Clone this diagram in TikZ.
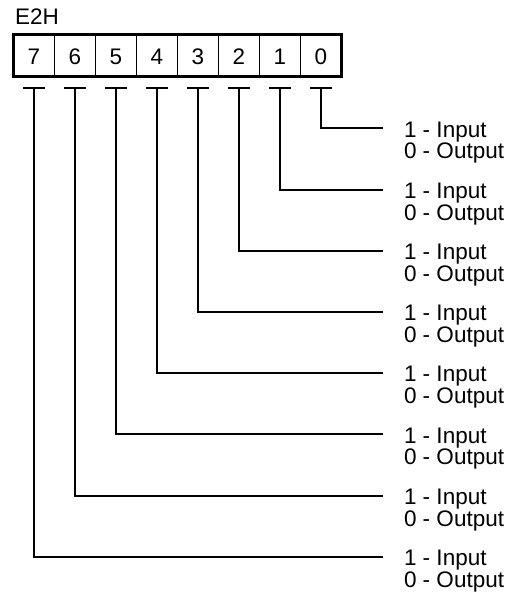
\documentclass[tikz,border=0pt]{standalone}
\usepackage{fontspec}
\setmainfont{Liberation Sans}
\begin{document}
\begin{tikzpicture}[x=1pt,y=-1pt,
  txt/.style={font=\fontsize{22.5}{26}\selectfont, inner sep=0pt, outer sep=0pt},
  cellbox/.style={draw, line width=1.8pt, minimum width=41pt, minimum height=42pt, inner sep=0pt, outer sep=0pt},
  wire/.style={line width=2pt},
  tbar/.style={line width=2pt},
  frame/.style={line width=3.5pt}]
\useasboundingbox (0,0) rectangle (512,594);
\node[txt, anchor=base west] (title) at (15,25) {E2H};
\foreach \i in {0,...,7} {
  \pgfmathsetmacro\cx{34.0+41*(7-\i)}
  \pgfmathsetmacro\ly{128.3+61.2*\i}
  \node[cellbox] (c\i) at (\cx,55.5) {};
  \node[txt, anchor=base] (d\i) at (\cx,65) {\i};
  \coordinate (t\i) at (\cx,88);
  \coordinate (e\i) at (383,\ly);
  \draw[tbar] ([xshift=-11pt]t\i) -- ([xshift=11pt]t\i);
  \draw[wire] (t\i) |- (e\i);
  \node[txt, anchor=base west] (in\i) at (404,\ly+8.7) {1 - Input};
  \node[txt, anchor=base west] (out\i) at (404,\ly+30.5) {0 - Output};
}
\draw[frame] (c7.north west) rectangle (c0.south east);
\end{tikzpicture}
\end{document}
